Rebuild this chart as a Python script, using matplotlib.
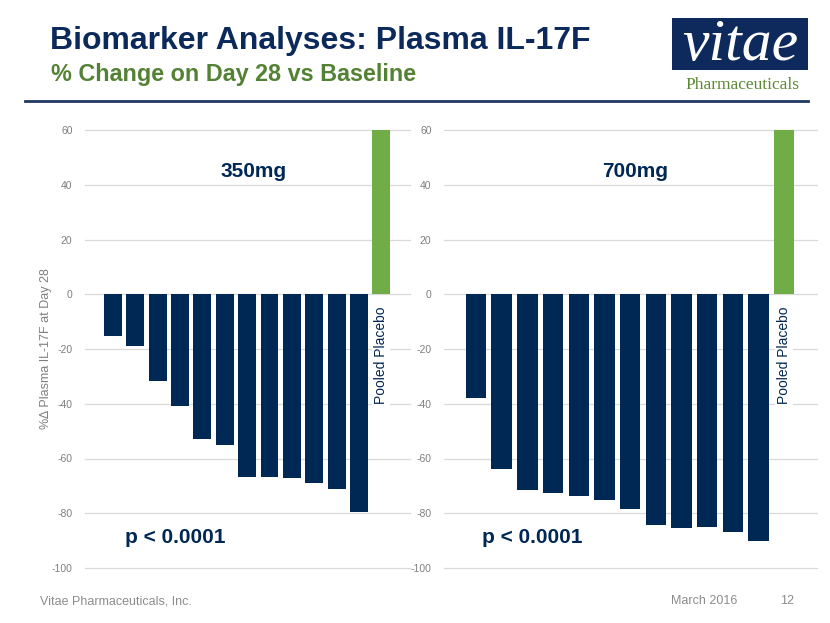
import matplotlib
matplotlib.use("Agg")
import matplotlib.pyplot as plt
from matplotlib.patches import Rectangle
from matplotlib.lines import Line2D

plt.rcParams['font.family'] = ['Liberation Sans', 'DejaVu Sans']

# ---- data ----
values_350 = [-15.3, -18.8, -31.8, -40.7, -52.8, -55.0, -66.6, -66.6, -67.2, -68.9, -71.1, -79.7, 60]
values_700 = [-37.9, -63.8, -71.6, -72.6, -73.7, -75.2, -78.4, -84.2, -85.5, -85.0, -87.0, -90.3, 60]
panel_titles = ["350mg", "700mg"]
placebo_label = "Pooled Placebo"
p_text = "p < 0.0001"
yticks = [60, 40, 20, 0, -20, -40, -60, -80, -100]
ylabel = "%\u2206 Plasma IL-17F at Day 28"

NAVY = "#002855"
GREEN = "#70AD47"
GRID = "#D9D9D9"
TICK = "#7F7F7F"

W, H = 830, 623
fig = plt.figure(figsize=(W / 100, H / 100), dpi=100)

def fx(px):
    return px / W

def fy(py):
    return 1 - py / H

axes_boxes = [(85, 410), (444, 817)]
y_top, y_bot = 130, 568

for i, (vals, (x0, x1)) in enumerate(zip([values_350, values_700], axes_boxes)):
    ax = fig.add_axes([fx(x0), fy(y_bot), fx(x1 - x0), (y_bot - y_top) / H])
    n = len(vals)
    colors = [NAVY] * (n - 1) + [GREEN]
    for t in yticks:
        ax.axhline(t, color=GRID, lw=0.9, zorder=0, clip_on=False)
    ax.bar(range(n), vals, width=0.8, color=colors, zorder=2)
    ax.set_xlim(-1.25, 13.28)
    ax.set_ylim(-100, 60)
    ax.set_yticks(yticks)
    ax.set_yticklabels([str(t) for t in yticks])
    ax.tick_params(axis='y', length=0, pad=9, labelsize=7.5, labelcolor=TICK)
    ax.set_xticks([])
    for s in ax.spines.values():
        s.set_visible(False)
    ax.text(n - 1, -4.5, placebo_label, rotation=90, ha='center', va='top',
            color=NAVY, fontsize=10, zorder=3,
            bbox=dict(facecolor='white', edgecolor='none', pad=1.5))
    ax.text(6.3 if i == 0 else 6.2, 45, panel_titles[i], ha='center', va='center',
            color=NAVY, fontsize=15, fontweight='bold')
    ax.text(2.8 if i == 0 else 2.2, -89, p_text, ha='center', va='center',
            color=NAVY, fontsize=15, fontweight='bold')
    if i == 0:
        ax.set_ylabel(ylabel, fontsize=9, color="#7F7F7F")
        ax.yaxis.set_label_coords((52 - 85) / (410 - 85), 0.5)

# ---- header ----
fig.text(fx(50), fy(41), "Biomarker Analyses: Plasma IL-17F", ha='left', va='center',
         fontsize=23, fontweight='bold', color="#0B2A5B")
fig.text(fx(51), fy(75), "% Change on Day 28 vs Baseline", ha='left', va='center',
         fontsize=16.8, fontweight='bold', color="#548235")
fig.add_artist(Line2D([fx(25), fx(808)], [fy(101), fy(101)], color="#1F3864", lw=2))

# logo
fig.add_artist(Rectangle((fx(672), fy(70)), fx(808 - 672), (70 - 18) / H,
                         facecolor="#0E2A5C", edgecolor='none'))
fig.text(fx(740), fy(46), "vitae", ha='center', va='center', fontsize=43,
         style='italic', family=['Liberation Serif', 'DejaVu Serif'], color='white')
fig.text(fx(742), fy(85), "Pharmaceuticals", ha='center', va='center', fontsize=12.5,
         family=['Liberation Serif', 'DejaVu Serif'], color="#5B8A32")

# footer
fig.text(fx(40), fy(601), "Vitae Pharmaceuticals, Inc.", ha='left', va='center',
         fontsize=9, color="#8C8C8C")
fig.text(fx(704), fy(601), "March 2016", ha='center', va='center',
         fontsize=9, color="#8C8C8C")
fig.text(fx(787), fy(601), "12", ha='center', va='center',
         fontsize=9, color="#8C8C8C")

fig.savefig("out.png", dpi=100)
